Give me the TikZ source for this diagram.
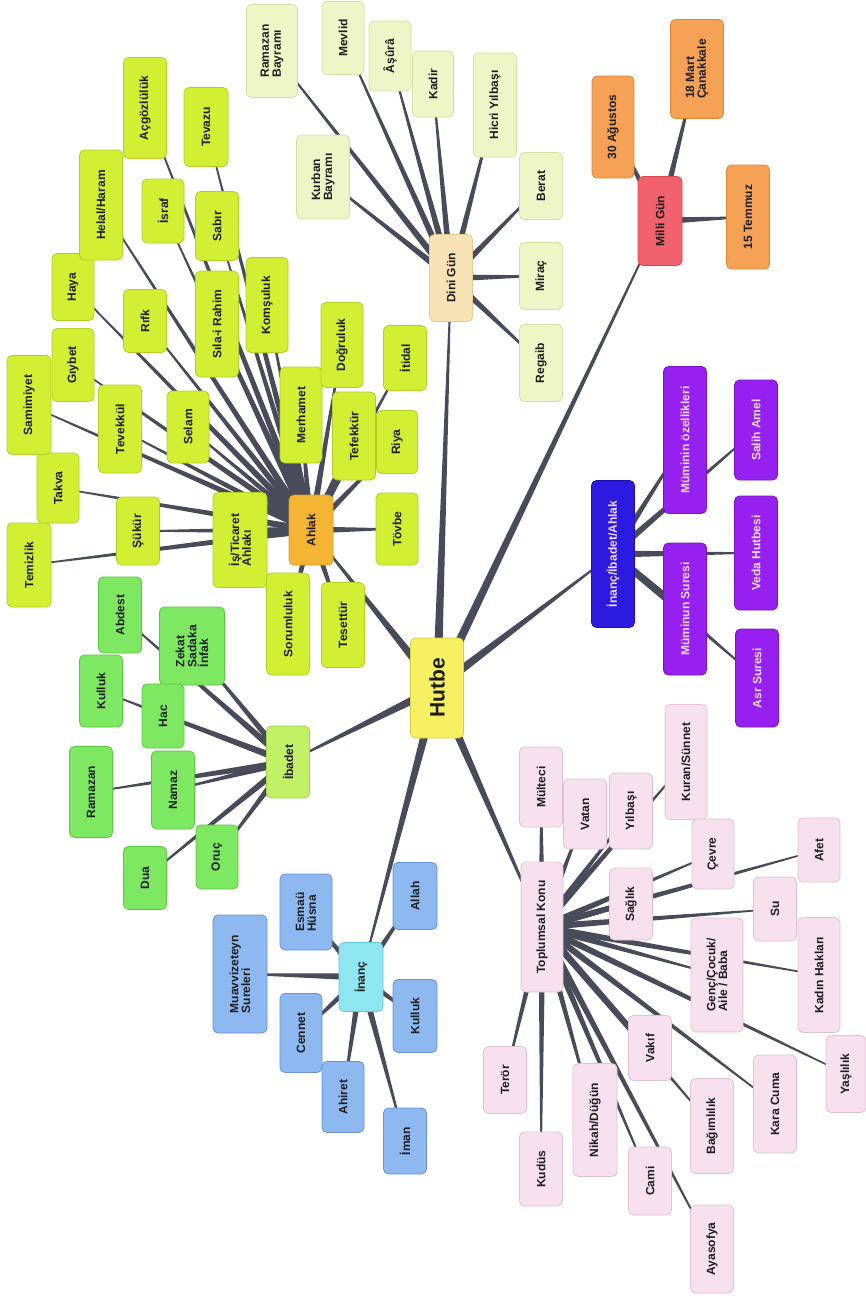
\documentclass[tikz,border=0pt]{standalone}
\usepackage{fontspec}
\setmainfont{Liberation Sans}
\usetikzlibrary{calc,backgrounds}

\definecolor{edgecol}{HTML}{474B5A}
\definecolor{txtcol}{HTML}{1E1E1E}
\definecolor{lighttxt}{HTML}{F4DAFA}
\definecolor{hubfill}{HTML}{F7F062}\definecolor{hubdraw}{HTML}{D8CE3C}
\definecolor{dinifill}{HTML}{F8E3B6}\definecolor{dinidraw}{HTML}{E6CB92}
\definecolor{dlfill}{HTML}{EEF6C8}\definecolor{dldraw}{HTML}{D2E2A2}
\definecolor{millifill}{HTML}{F1626E}\definecolor{millidraw}{HTML}{D8424F}
\definecolor{mlfill}{HTML}{F5A257}\definecolor{mldraw}{HTML}{E0832F}
\definecolor{iiafill}{HTML}{2C1AE0}\definecolor{iiadraw}{HTML}{1E10B0}
\definecolor{ilfill}{HTML}{9620F0}\definecolor{ildraw}{HTML}{7412CC}
\definecolor{ahlakfill}{HTML}{F4B534}\definecolor{ahlakdraw}{HTML}{DC9A22}
\definecolor{alfill}{HTML}{D2EF34}\definecolor{aldraw}{HTML}{B2D024}
\definecolor{ibadetfill}{HTML}{C2F066}\definecolor{ibadetdraw}{HTML}{A2D448}
\definecolor{blfill}{HTML}{7EE862}\definecolor{bldraw}{HTML}{5CC842}
\definecolor{inancfill}{HTML}{8EE6F0}\definecolor{inancdraw}{HTML}{62C8D8}
\definecolor{nlfill}{HTML}{8DB8F0}\definecolor{nldraw}{HTML}{6892D8}
\definecolor{tfill}{HTML}{F7E1EE}\definecolor{tdraw}{HTML}{E2C2D2}

\begin{document}
\begin{tikzpicture}[
    x=1pt, y=-1pt,
    box/.style={rounded corners=5pt, rotate=90, inner sep=2pt, align=left, line width=0.8pt,
        text=txtcol, font=\bfseries\fontsize{12}{11.8}\selectfont},
    sz/.style 2 args={minimum height=#1pt, minimum width=#2pt},
    hub/.style={box, fill=hubfill, draw=hubdraw, font=\bfseries\fontsize{21}{22}\selectfont},
    dini/.style={box, fill=dinifill, draw=dinidraw},
    dinileaf/.style={box, fill=dlfill, draw=dldraw},
    milli/.style={box, fill=millifill, draw=millidraw},
    millileaf/.style={box, fill=mlfill, draw=mldraw},
    iia/.style={box, fill=iiafill, draw=iiadraw, text=lighttxt},
    iialeaf/.style={box, fill=ilfill, draw=ildraw, text=lighttxt},
    ahlak/.style={box, fill=ahlakfill, draw=ahlakdraw},
    ahlakleaf/.style={box, fill=alfill, draw=aldraw},
    ibadet/.style={box, fill=ibadetfill, draw=ibadetdraw},
    ibadetleaf/.style={box, fill=blfill, draw=bldraw},
    inanc/.style={box, fill=inancfill, draw=inancdraw},
    inancleaf/.style={box, fill=nlfill, draw=nldraw},
    toplum/.style={box, fill=tfill, draw=tdraw},
    edge/.style={fill=edgecol}
]

\begin{pgfonlayer}{background}
\fill[white] (0,0) rectangle (865,1298);
\end{pgfonlayer}
\useasboundingbox (0,0) rectangle (865,1298);

% centre
\node[hub, sz={53}{100}] (hutbe) at (437,688) {Hutbe};

% dini gunler
\node[dini, sz={43}{87}] (dini) at (451,278) {Dini Gün};
\node[dinileaf, sz={51}{93}] (rbayram) at (272,51) {Ramazan\\Bayramı};
\node[dinileaf, sz={53}{84}] (kbayram) at (323,177) {Kurban\\Bayramı};
\node[dinileaf, sz={42}{73}] (mevlid) at (343,38) {Mevlid};
\node[dinileaf, sz={42}{70}] (asura) at (390,56) {Âşûrâ};
\node[dinileaf, sz={41}{66}] (kadir) at (433,84) {Kadir};
\node[dinileaf, sz={43}{104}] (hicri) at (495,105) {Hicri Yılbaşı};
\node[dinileaf, sz={43}{67}] (berat) at (541,186) {Berat};
\node[dinileaf, sz={43}{67}] (mirac) at (541,276) {Miraç};
\node[dinileaf, sz={43}{77}] (regaib) at (541,363) {Regaib};

% milli gunler
\node[milli, sz={44}{89}] (milli) at (660,221) {Milli Gün};
\node[millileaf, sz={42}{102}] (agustos) at (613,127) {30 Ağustos};
\node[millileaf, sz={53}{99}] (canakkale) at (697,69) {18 Mart\\Çanakkale};
\node[millileaf, sz={43}{104}] (temmuz) at (748,217) {15 Temmuz};

% inanc/ibadet/ahlak
\node[iia, sz={43}{147}] (iia) at (613,554) {İnanç/İbadet/Ahlak};
\node[iialeaf, sz={43}{147}] (mozellik) at (685,440) {Müminin özellikleri};
\node[iialeaf, sz={43}{100}] (salih) at (756,430) {Salih Amel};
\node[iialeaf, sz={43}{132}] (muminun) at (685,609) {Müminun Suresi};
\node[iialeaf, sz={43}{114}] (veda) at (756,553) {Veda Hutbesi};
\node[iialeaf, sz={43}{98}] (asr) at (757,678) {Asr Suresi};

% ahlak
\node[ahlak, sz={44}{70}] (ahlak) at (311,530) {Ahlak};
\node[ahlakleaf, sz={54}{95}] (isahlak) at (240,540) {İş/Ticaret\\Ahlakı};
\node[ahlakleaf, sz={43}{68}] (sukur) at (138,531) {Şükür};
\node[ahlakleaf, sz={44}{84}] (temizlik) at (29,565) {Temizlik};
\node[ahlakleaf, sz={42}{70}] (takva) at (58,488) {Takva};
\node[ahlakleaf, sz={43}{88}] (tevekkul) at (120,429) {Tevekkül};
\node[ahlakleaf, sz={44}{99}] (samimiyet) at (29,405) {Samimiyet};
\node[ahlakleaf, sz={42}{72}] (selam) at (188,427) {Selam};
\node[ahlakleaf, sz={42}{73}] (giybet) at (73,365) {Gıybet};
\node[ahlakleaf, sz={42}{67}] (haya) at (73,287) {Haya};
\node[ahlakleaf, sz={43}{63}] (rifk) at (145,321) {Rıfk};
\node[ahlakleaf, sz={43}{110}] (helal) at (101,205) {Helal/Haram};
\node[ahlakleaf, sz={43}{106}] (sila) at (217,324) {Sıla-i Rahim};
\node[ahlakleaf, sz={42}{64}] (israf) at (163,211) {İsraf};
\node[ahlakleaf, sz={43}{101}] (acgoz) at (145,108) {Açgözlülük};
\node[ahlakleaf, sz={43}{69}] (sabir) at (217,226) {Sabır};
\node[ahlakleaf, sz={44}{79}] (tevazu) at (206,127) {Tevazu};
\node[ahlakleaf, sz={42}{95}] (komsu) at (267,305) {Komşuluk};
\node[ahlakleaf, sz={42}{96}] (merhamet) at (301,415) {Merhamet};
\node[ahlakleaf, sz={42}{85}] (dogru) at (342,345) {Doğruluk};
\node[ahlakleaf, sz={43}{88}] (tefekkur) at (354,436) {Tefekkür};
\node[ahlakleaf, sz={43}{65}] (itidal) at (405,358) {İtidal};
\node[ahlakleaf, sz={41}{63}] (riya) at (397,442) {Riya};
\node[ahlakleaf, sz={42}{72}] (tovbe) at (397,529) {Tövbe};
\node[ahlakleaf, sz={43}{85}] (tesettur) at (343,625) {Tesettür};
\node[ahlakleaf, sz={43}{102}] (sorum) at (288,624) {Sorumluluk};

% ibadet
\node[ibadet, sz={43}{72}] (ibadet) at (288,762) {İbadet};
\node[ibadetleaf, sz={65}{78}] (zekat) at (192,646) {Zekat\\Sadaka\\İnfak};
\node[ibadetleaf, sz={43}{76}] (abdest) at (120,615) {Abdest};
\node[ibadetleaf, sz={43}{72}] (kulluka) at (101,691) {Kulluk};
\node[ibadetleaf, sz={42}{64}] (hac) at (163,716) {Hac};
\node[ibadetleaf, sz={43}{91}] (ramazan) at (91,792) {Ramazan};
\node[ibadetleaf, sz={43}{78}] (namaz) at (173,790) {Namaz};
\node[ibadetleaf, sz={42}{64}] (oruc) at (217,857) {Oruç};
\node[ibadetleaf, sz={43}{63}] (dua) at (145,878) {Dua};

% inanc
\node[inanc, sz={44}{69}] (inanc) at (361,977) {İnanç};
\node[inancleaf, sz={52}{76}] (esma) at (306,912) {Esmaü\\Hüsna};
\node[inancleaf, sz={44}{67}] (allah) at (415,896) {Allah};
\node[inancleaf, sz={54}{118}] (muavviz) at (240,974) {Muavvizeteyn\\Sureleri};
\node[inancleaf, sz={42}{79}] (cennet) at (301,1033) {Cennet};
\node[inancleaf, sz={42}{71}] (ahiret) at (343,1097) {Ahiret};
\node[inancleaf, sz={43}{66}] (iman) at (405,1141) {İman};
\node[inancleaf, sz={44}{73}] (kullukb) at (415,1016) {Kulluk};

% toplumsal konu
\node[toplum, sz={42}{130}] (toplum) at (542,927) {Toplumsal Konu};
\node[toplum, sz={43}{80}] (multeci) at (541,787) {Mülteci};
\node[toplum, sz={43}{70}] (vatan) at (585,814) {Vatan};
\node[toplum, sz={43}{76}] (yilbasi) at (631,811) {Yılbaşı};
\node[toplum, sz={42}{115}] (kuran) at (686,762) {Kuran/Sünnet};
\node[toplum, sz={43}{72}] (saglik) at (631,904) {Sağlık};
\node[toplum, sz={42}{70}] (cevre) at (713,854) {Çevre};
\node[toplum, sz={42}{64}] (afet) at (819,850) {Afet};
\node[toplum, sz={43}{64}] (su) at (775,909) {Su};
\node[toplum, sz={52}{114}] (genc) at (717,975) {Genç/Çocuk/\\Aile / Baba};
\node[toplum, sz={42}{115}] (kadin) at (819,975) {Kadın Hakları};
\node[toplum, sz={40}{77}] (yasli) at (846,1074) {Yaşlılık};
\node[toplum, sz={43}{98}] (karacuma) at (775,1104) {Kara Cuma};
\node[toplum, sz={43}{65}] (vakif) at (650,1048) {Vakıf};
\node[toplum, sz={43}{95}] (bagim) at (712,1126) {Bağımlılık};
\node[toplum, sz={43}{68}] (cami) at (650,1181) {Cami};
\node[toplum, sz={43}{88}] (ayasofya) at (712,1249) {Ayasofya};
\node[toplum, sz={44}{113}] (nikah) at (595,1120) {Nikah/Düğün};
\node[toplum, sz={43}{74}] (kudus) at (541,1169) {Kudüs};
\node[toplum, sz={43}{67}] (teror) at (505,1080) {Terör};

% tapered branches, thick at the parent
\begin{pgfonlayer}{background}
\foreach \p/\w/\kids in {
    hutbe/4.5/{dini,milli,iia,ahlak,ibadet,inanc,toplum},
    dini/3.5/{rbayram,kbayram,mevlid,asura,kadir,hicri,berat,mirac,regaib},
    milli/3.5/{agustos,canakkale,temmuz},
    iia/3.5/{mozellik,salih,muminun,veda,asr},
    ahlak/3.5/{isahlak,sukur,temizlik,takva,tevekkul,samimiyet,selam,giybet,haya,rifk,helal,sila,israf,acgoz,sabir,tevazu,komsu,merhamet,dogru,tefekkur,itidal,riya,tovbe,tesettur,sorum},
    ibadet/3.5/{zekat,abdest,kulluka,hac,ramazan,namaz,oruc,dua},
    inanc/3.5/{esma,allah,muavviz,cennet,ahiret,iman,kullukb},
    toplum/3.5/{multeci,vatan,yilbasi,kuran,saglik,cevre,afet,su,genc,kadin,yasli,karacuma,vakif,bagim,cami,ayasofya,nikah,kudus,teror}}
  \foreach \c in \kids
    \fill[edge] ($(\p)!\w pt!90:(\c)$) -- ($(\c)!.6pt!-90:(\p)$)
        -- ($(\c)!.6pt!90:(\p)$) -- ($(\p)!\w pt!-90:(\c)$) -- cycle;
\end{pgfonlayer}

\end{tikzpicture}
\end{document}
